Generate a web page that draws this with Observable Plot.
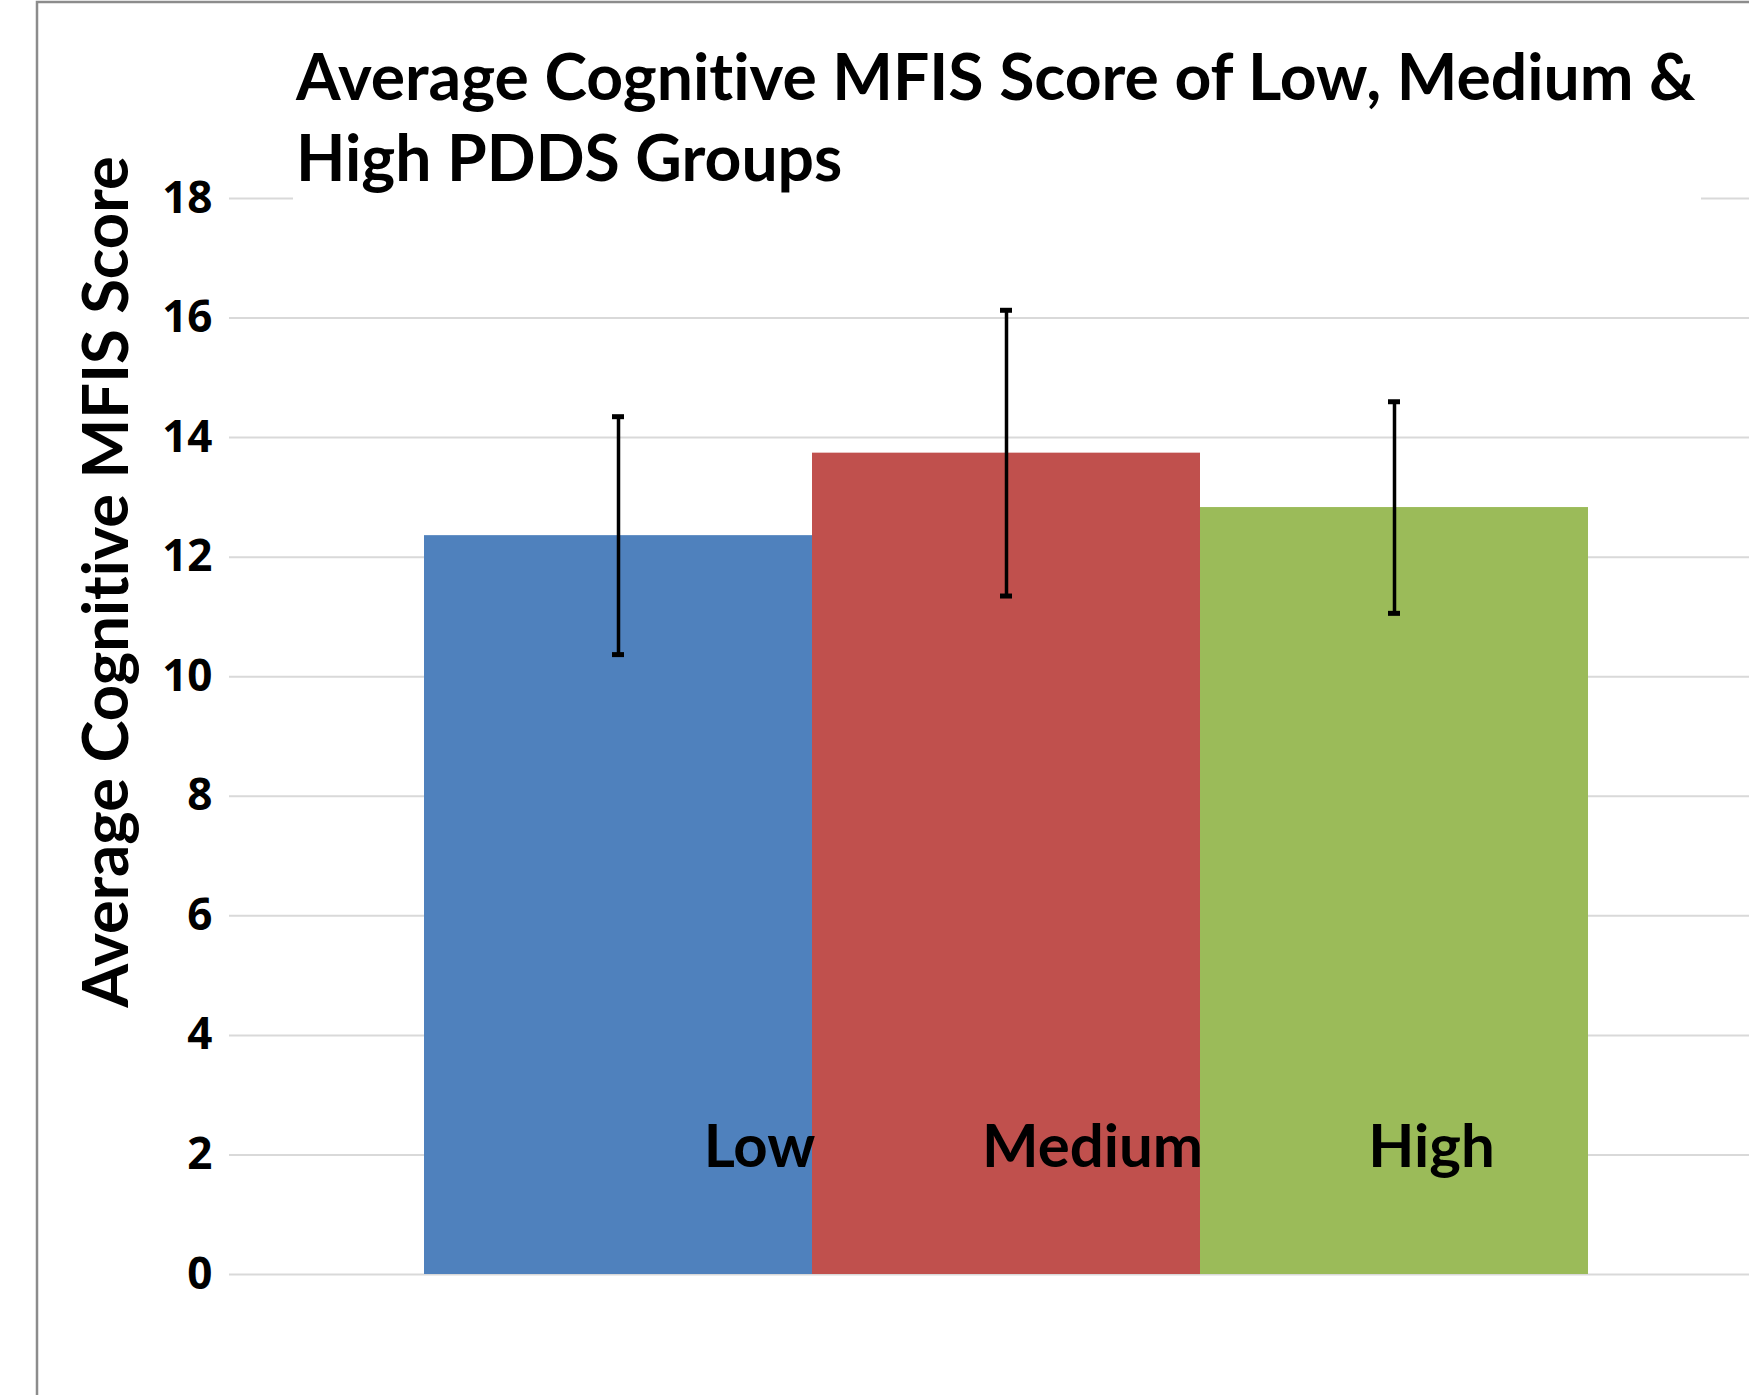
<!DOCTYPE html>
<html><head><meta charset="utf-8">
<script src="https://cdn.jsdelivr.net/npm/d3@7"></script>
<script src="https://cdn.jsdelivr.net/npm/@observablehq/plot@0.6"></script>
<style>
html,body{margin:0;padding:0;background:#fff;}
#chart{position:relative;width:1749px;height:1395px;overflow:hidden;background:#fff;}
#chart svg text{font-variant-ligatures:none;font-feature-settings:"liga" 0;}
</style></head><body><div id="chart"></div>
<script>
// ---- data ----
const groups = ["Low", "Medium", "High"];
const means = [12.36, 13.74, 12.83];
const errors = [1.99, 2.39, 1.77];
const colors = ["#4F81BD", "#C0504D", "#9BBB59"];
const yTicks = [0, 2, 4, 6, 8, 10, 12, 14, 16, 18];
const titleLines = ["Average Cognitive MFIS Score of Low, Medium &", "High PDDS Groups"];
const yLabel = "Average Cognitive MFIS Score";

// ---- layout constants ----
const W = 1749, H = 1395;
const labelDx = {Low: 141, Medium: 86, High: 37};
const labelY = 1.8;

const data = groups.map((g, i) => ({group: g, mean: means[i], err: errors[i]}));

function fit(text, weight, family, target) {
  const ctx = document.createElement("canvas").getContext("2d");
  ctx.font = `${weight} 100px ${family}`;
  return 100 * target / ctx.measureText(text).width;
}
const titleSize = fit(titleLines[0], 700, "Lato", 1402);
const ySize = fit(yLabel, 700, "Lato", 853);
const catSize = fit("Medium", 700, "Lato", 221);

const plot = Plot.plot({
  width: W, height: H,
  marginLeft: 229, marginRight: 0, marginTop: 198, marginBottom: 121,
  style: {background: "transparent", fontFamily: "Open Sans"},
  x: {domain: groups, range: [229, 1783], paddingInner: 0, paddingOuter: 0.5, axis: null},
  y: {domain: [0, 18]},
  color: {domain: groups, range: colors},
  marks: [
    Plot.ruleY(yTicks, {stroke: "#d9d9d9", strokeWidth: 2}),
    Plot.axisY({ticks: yTicks, tickSize: 0, tickPadding: 17, fontSize: 44, fontWeight: 700,
      fontFamily: "Open Sans", fill: "#000", label: null}),
    Plot.barY(data, {x: "group", y: "mean", fill: "group"}),
    Plot.ruleX(data, {x: "group", y1: d => d.mean - d.err, y2: d => d.mean + d.err,
      stroke: "#000", strokeWidth: 3.5}),
    Plot.tickY(data, {x: "group", y: d => d.mean + d.err, stroke: "#000", strokeWidth: 5,
      insetLeft: 188, insetRight: 188}),
    Plot.tickY(data, {x: "group", y: d => d.mean - d.err, stroke: "#000", strokeWidth: 5,
      insetLeft: 188, insetRight: 188}),
    ...groups.map(g => Plot.text(data.filter(d => d.group === g), {
      x: "group", y: () => labelY, text: "group", dx: labelDx[g],
      fontSize: catSize, fontWeight: 700, fontFamily: "Lato", fill: "#000",
      lineAnchor: "bottom", textAnchor: "middle"
    }))
  ]
});

const svg = d3.select(plot);
// title with white box covering the top gridline
svg.append("rect").attr("x", 293).attr("y", 30).attr("width", 1408).attr("height", 178).attr("fill", "#fff");
const tg = svg.append("g").attr("font-family", "Lato").attr("font-weight", 700)
  .attr("font-size", titleSize).attr("fill", "#000").attr("text-anchor", "start");
titleLines.forEach((t, i) => tg.append("text").attr("x", 296).attr("y", 100 + i * 81).text(t));
// y axis title
svg.append("text").attr("transform", "translate(128,582) rotate(-90)")
  .attr("text-anchor", "middle").attr("font-family", "Lato").attr("font-weight", 700)
  .attr("font-size", ySize).attr("fill", "#000").text(yLabel);
// window frame
svg.append("path").attr("d", `M37,${H} V2 H${W}`).attr("fill", "none")
  .attr("stroke", "#8c8c8c").attr("stroke-width", 2.5);

document.getElementById("chart").appendChild(plot);
</script></body></html>
